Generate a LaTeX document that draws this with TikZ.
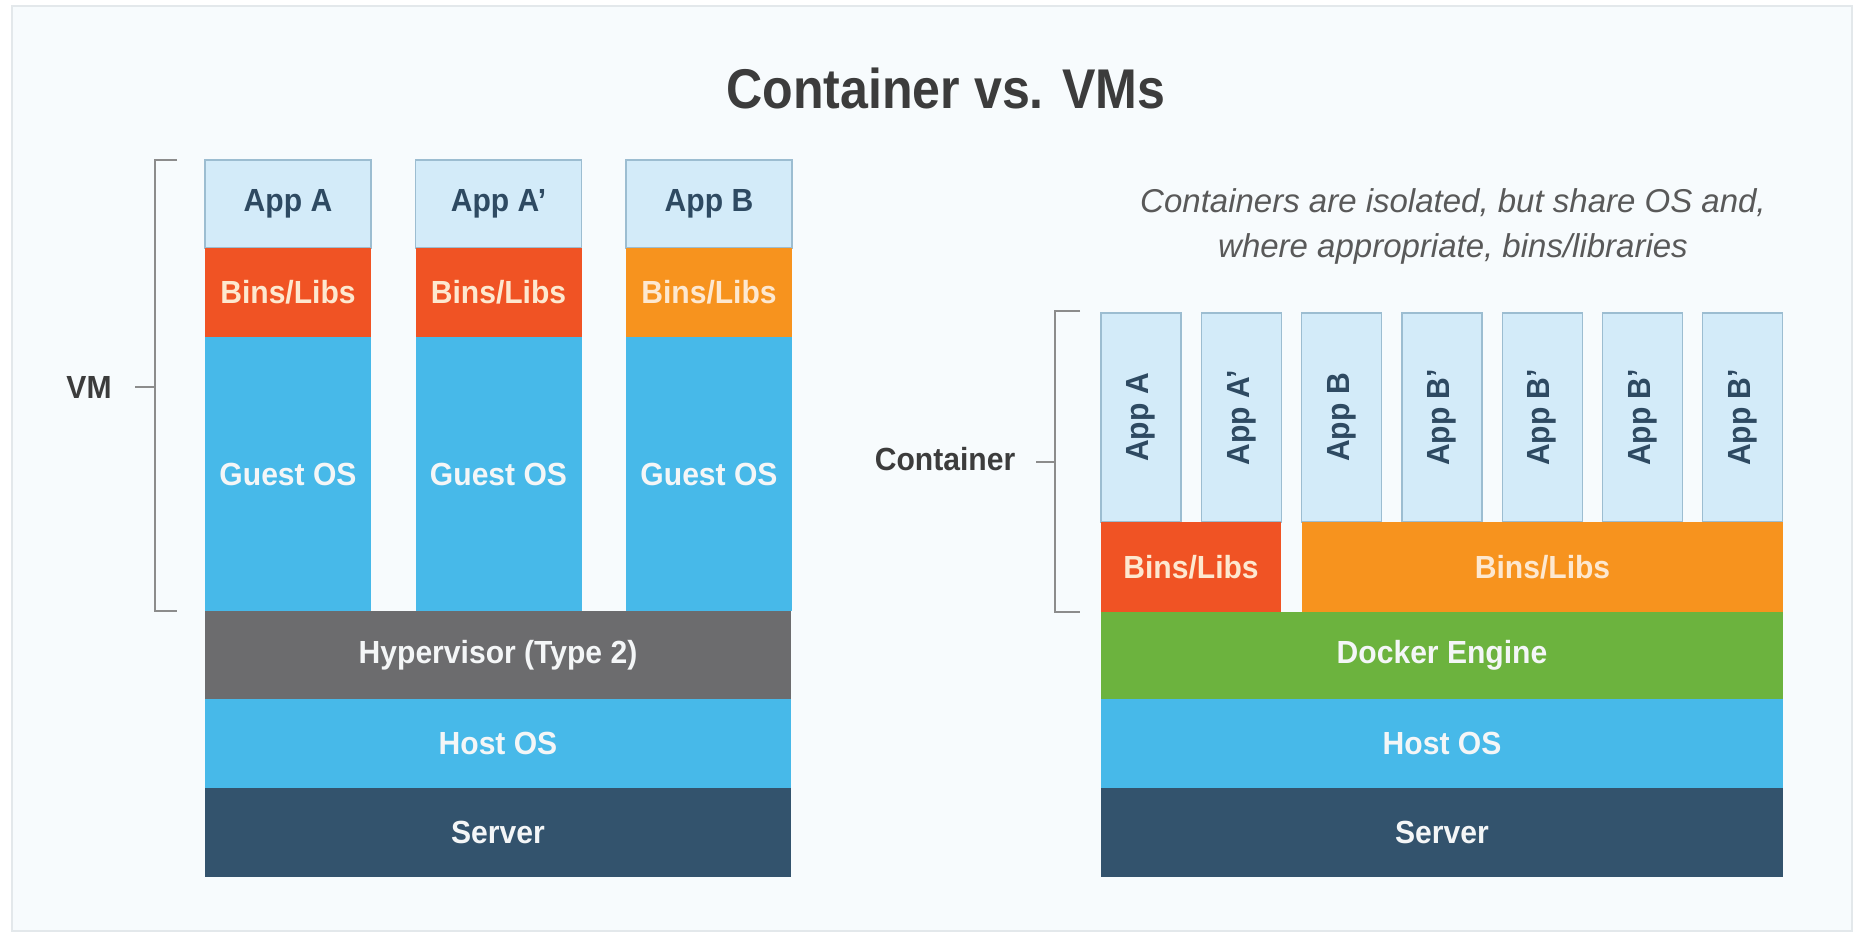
\documentclass[tikz,border=0pt]{standalone}
\usepackage{fontspec}
\setmainfont{Liberation Sans}
\usepackage{graphicx}
\usetikzlibrary{positioning}
\definecolor{bgblue}{HTML}{F7FBFD}
\definecolor{framegray}{HTML}{E3E8EB}
\definecolor{appfill}{HTML}{D3EBF9}
\definecolor{appline}{HTML}{9CBDD1}
\definecolor{appink}{HTML}{2E4A62}
\definecolor{binsred}{HTML}{F05324}
\definecolor{binsorange}{HTML}{F7931E}
\definecolor{binsink}{HTML}{FDE8D0}
\definecolor{osblue}{HTML}{47B9E9}
\definecolor{hypergray}{HTML}{6C6C6E}
\definecolor{serverblue}{HTML}{33536D}
\definecolor{dockergreen}{HTML}{6CB33E}
\definecolor{labelwhite}{HTML}{F4F6F7}
\definecolor{inkgray}{HTML}{3C3C3C}
\definecolor{bracegray}{HTML}{8C8C8C}
\newcommand{\slim}[1]{\scalebox{0.94}[1]{#1}}
\tikzset{
	dim/.style 2 args={minimum width=#1pt,minimum height=#2pt},
	layer/.style={rectangle,inner sep=0pt,text=labelwhite,
			font=\fontsize{32}{36}\selectfont\bfseries},
	app/.style={layer,fill=appfill,draw=appline,line width=1.2pt,text=appink},
	binsr/.style={layer,fill=binsred,text=binsink},
	binso/.style={layer,fill=binsorange,text=binsink},
	osbox/.style={layer,fill=osblue},
	hyper/.style={layer,fill=hypergray},
	docker/.style={layer,fill=dockergreen},
	server/.style={layer,fill=serverblue},
	side/.style={text=inkgray,font=\fontsize{32}{36}\selectfont\bfseries},
	brace/.style={draw=bracegray,line width=2pt}
}

\begin{document}
\begin{tikzpicture}[x=1pt,y=-1pt]
	\useasboundingbox (0,0) rectangle (1858,940);
	\fill[white] (0,0) rectangle (1858,940);
	\draw[framegray,line width=1.5pt,fill=bgblue] (12,6) rectangle (1852,931);

	% title
	\node[text=inkgray,font=\fontsize{56}{60}\selectfont\bfseries] (title) at (946,88)
	{\scalebox{0.895}[1]{Container vs. VMs}};
	\node[text=inkgray!85,align=center,font=\fontsize{33}{45}\selectfont\itshape] (sub) at (1453,226)
	{Containers are isolated, but share OS and,\\where appropriate, bins/libraries};

	% virtual machines
	\node[app,dim={166}{88}] (vappa) at (288,204) {\slim{App A}};
	\node[app,dim={166}{88}] (vappa2) at (498.5,204) {\slim{App A’}};
	\node[app,dim={166}{88}] (vappb) at (709,204) {\slim{App B}};
	\node[binsr,dim={166}{89}] (vbinsa) at (288,292.5) {\slim{Bins/Libs}};
	\node[binsr,dim={166}{89}] (vbinsa2) at (498.5,292.5) {\slim{Bins/Libs}};
	\node[binso,dim={166}{89}] (vbinsb) at (709,292.5) {\slim{Bins/Libs}};
	\node[osbox,dim={166}{274}] (guesta) at (288,474) {\slim{Guest OS}};
	\node[osbox,dim={166}{274}] (guesta2) at (498.5,474) {\slim{Guest OS}};
	\node[osbox,dim={166}{274}] (guestb) at (709,474) {\slim{Guest OS}};
	\node[hyper,dim={586}{88}] (hyper) at (498,655) {\slim{Hypervisor (Type 2)}};
	\node[osbox,dim={586}{89}] (vhost) at (498,743.5) {\slim{Host OS}};
	\node[server,dim={586}{89}] (vserver) at (498,832.5) {\slim{Server}};

	\node[side] (vm) at (89,387) {\slim{VM}};
	\coordinate (vmtick) at (135,387);
	\coordinate (vmbrace) at (155,387);
	\draw[brace] (177,160) -- (155,160) -- (155,611) -- (177,611);
	\draw[brace] (vmtick) -- (vmbrace);

	% containers
	\node[app,rotate=90,dim={209}{80}] (capp1) at (1141,417.5) {\slim{App A}};
	\node[app,rotate=90,dim={209}{80}] (capp2) at (1241.3,417.5) {\slim{App A’}};
	\node[app,rotate=90,dim={209}{80}] (capp3) at (1341.6,417.5) {\slim{App B}};
	\node[app,rotate=90,dim={209}{80}] (capp4) at (1441.9,417.5) {\slim{App B’}};
	\node[app,rotate=90,dim={209}{80}] (capp5) at (1542.2,417.5) {\slim{App B’}};
	\node[app,rotate=90,dim={209}{80}] (capp6) at (1642.5,417.5) {\slim{App B’}};
	\node[app,rotate=90,dim={209}{80}] (capp7) at (1742.8,417.5) {\slim{App B’}};
	\node[binsr,dim={180}{90}] (cbinsa) at (1191,567) {\slim{Bins/Libs}};
	\node[binso,dim={481}{90}] (cbinsb) at (1542.5,567) {\slim{Bins/Libs}};
	\node[docker,dim={682}{87}] (engine) at (1442,655.5) {\slim{Docker Engine}};
	\node[osbox,dim={682}{89}] (chost) at (1442,743.5) {\slim{Host OS}};
	\node[server,dim={682}{89}] (cserver) at (1442,832.5) {\slim{Server}};

	\node[side] (ctr) at (945,459) {\slim{Container}};
	\coordinate (ctrtick) at (1036,462);
	\coordinate (ctrbrace) at (1055,462);
	\draw[brace] (1080,311) -- (1055,311) -- (1055,612) -- (1080,612);
	\draw[brace] (ctrtick) -- (ctrbrace);
\end{tikzpicture}
\end{document}
